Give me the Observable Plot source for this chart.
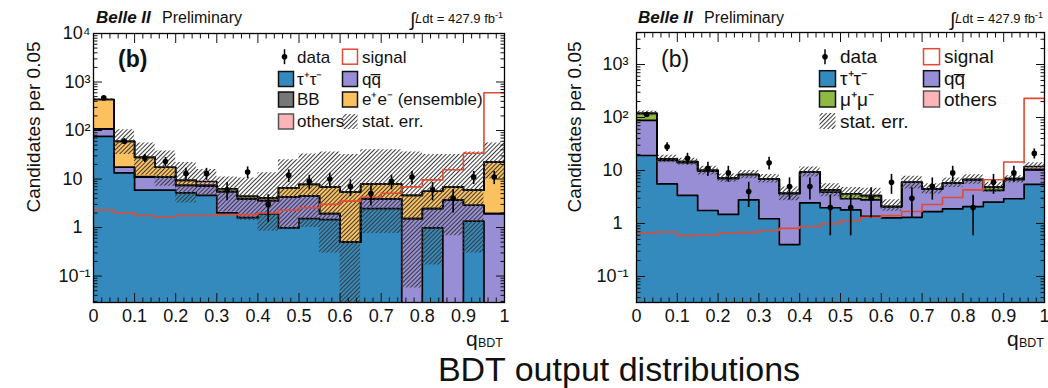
<!DOCTYPE html>
<html><head><meta charset="utf-8">
<script src="https://cdn.jsdelivr.net/npm/d3@7"></script>
<script src="https://cdn.jsdelivr.net/npm/@observablehq/plot@0.6"></script>
<style>
body{margin:0;background:#fff;}
#page{position:relative;width:1048px;height:388px;overflow:hidden;background:#fff;font-family:"Liberation Sans",Arial,sans-serif;}
.panel{position:absolute;top:0;}
#overlay{position:absolute;left:0;top:0;pointer-events:none;}
</style></head>
<body><div id="page"></div>
<script>
// ---------- shared categories / ticks ----------
const binLow = [0,0.05,0.1,0.15,0.2,0.25,0.3,0.35,0.4,0.45,0.5,0.55,0.6,0.65,0.7,0.75,0.8,0.85,0.9,0.95];
const binWidth = 0.05;
const xTickValues = [0,0.1,0.2,0.3,0.4,0.5,0.6,0.7,0.8,0.9,1];
const xTickLabels = ["0","0.1","0.2","0.3","0.4","0.5","0.6","0.7","0.8","0.9","1"];
const yTickValues = [0.1,1,10,100,1000,10000];
const yTickLabels = ["10\u207B\u00B9","1","10","10\u00B2","10\u00B3","10\u2074"];

// ---------- left panel (e+e- ensemble) ----------
const leftTauTau = [76,13.4,5.9,5.9,5.2,4.6,2.0,1.6,1.9,0.98,1.53,1.46,0.5,2.46,2.46,0,0.98,0,1.35,0];
const leftQQ     = [32,4.1,5.0,5.0,2.2,2.5,3.5,2.3,1.7,3.3,2.9,0.48,0,1.44,1.44,1.53,1.48,3.66,1.53,1.94];
const leftBB     = [0,0,0.3,0,0,0,0,0,0,0,0,0,0,0,0,0,0,0,0,0];
const leftEE     = [328,42.5,16.8,6.6,2.0,0.4,0.8,0.5,0.5,2.3,3.3,4.86,4.9,4.0,4.0,3.07,3.14,3.14,3.02,20.3];
const leftOthers = [0,0,0,0,0,1.4,0,0,0,0,0,0,0,0,0,0,0,0,0,0];
const leftSignal = [2.3,2.0,1.77,1.63,1.77,1.77,1.85,1.85,2.0,2.27,2.55,3.0,3.5,4.2,5.1,6.9,9.6,15.5,34,600];
const leftData   = [470,60,27,23,13,13,6,14,3,12,9,10,7,5,9,11,6,4,11,11];
const leftErrLow  = [420,32,12,7.1,3.2,4.5,2.1,1.4,0.84,0.9,1.0,0.3,0.01,0.75,0.75,0.057,0.17,0.68,0.3,10];
const leftErrHigh = [452,104,55,38,22,15.7,11,10.5,13.4,25,33,36,32,40,40,36,32,32,36,55];

// ---------- right panel ----------
const rightTauTau = [19.2,5.6,3.4,1.76,1.48,2.8,1.23,0.40,2.46,1.98,1.81,1.36,1.28,1.31,1.68,1.89,2.09,2.52,2.93,5.45];
const rightQQ     = [68.8,9.9,10.7,7.94,5.52,5.6,5.67,3.3,6.84,1.92,1.12,1.44,0.81,4.69,2.82,3.91,4.66,1.68,3.77,4.85];
const rightMuMu   = [32,1.1,0.7,0.4,0.2,0,0,0,0,0.4,0.71,0.57,0,0,0,0,0,0.64,0.3,0.2];
const rightOthers = [0,0,0,0,0,0,0,0,0,0,0,0,0,0,0,0,0,0,0,1.4];
const rightSignal = [0.66,0.69,0.59,0.6,0.66,0.68,0.74,0.81,0.88,0.99,1.14,1.31,1.41,1.68,2.28,3.1,4.3,6.7,14.5,230];
const rightData   = [114,28,17,11,9,4,14,5,5,2,2,3,6,3,5,9,2,6,9,21];
const rightErrLow  = [108,14,12.5,8.2,6,7,5.8,2.7,7.5,3.2,2.8,2.9,1.7,4.5,3.6,4.8,5.5,3.9,5.8,10.3];
const rightErrHigh = [132,19.5,17,12,8.6,10,8.4,4.9,11.6,5.6,4.8,4.6,2.8,7.8,5.6,7.2,8.3,6.0,8.0,14];

// ---------- colours ----------
const colTau = "#348ABD", colQQ = "#988ED5", colBB = "#777777", colEE = "#FBC15E",
      colOthers = "#FFB5B8", colMuMu = "#8EBA42", colSignal = "#E24A33";

const FONT = '"Liberation Sans", Arial, sans-serif';

function addHatch(svg, id) {
  const ns = "http://www.w3.org/2000/svg";
  const defs = document.createElementNS(ns, "defs");
  const p = document.createElementNS(ns, "pattern");
  p.setAttribute("id", id);
  p.setAttribute("patternUnits", "userSpaceOnUse");
  p.setAttribute("width", "3"); p.setAttribute("height", "3");
  p.setAttribute("patternTransform", "rotate(45)");
  const l = document.createElementNS(ns, "line");
  l.setAttribute("x1", "1.5"); l.setAttribute("y1", "-1");
  l.setAttribute("x2", "1.5"); l.setAttribute("y2", "4");
  l.setAttribute("stroke", "#3a3a3a"); l.setAttribute("stroke-width", "1");
  p.appendChild(l); defs.appendChild(p);
  svg.insertBefore(defs, svg.firstChild);
}

function labelOf(values, labels) {
  return d => { const i = values.findIndex(v => Math.abs(v - d) < 1e-9 * Math.max(1, Math.abs(d))); return i >= 0 ? labels[i] : ""; };
}

// points for a step shape: one per bin plus the closing edge at x = 1
function stepPoints(lowArr, highArr, floorVal) {
  const pts = binLow.map((x, i) => ({x, y1: Math.max(lowArr[i], floorVal), y2: Math.max(highArr[i], floorVal)}));
  const n = binLow.length - 1;
  pts.push({x: 1, y1: pts[n].y1, y2: pts[n].y2});
  return pts;
}

function buildPanel(o) {
  const floorVal = o.yDomain[0] / 1000;
  let cum = binLow.map(() => 0);
  const marks = [];
  const levelLines = [];
  for (const layer of o.layers) {
    const next = cum.map((c, i) => c + layer.values[i]);
    marks.push(Plot.areaY(stepPoints(cum, next, floorVal), {x: "x", y1: "y1", y2: "y2", curve: "step-after", fill: layer.color, clip: true}));
    levelLines.push(stepPoints(next, next, floorVal));
    cum = next;
  }
  for (const pts of levelLines) {
    marks.push(Plot.line(pts, {x: "x", y: "y2", curve: "step-after", stroke: "black", strokeWidth: 1.7, clip: true}));
  }
  marks.push(Plot.areaY(stepPoints(o.errLow, o.errHigh, floorVal), {x: "x", y1: "y1", y2: "y2", curve: "step-after", fill: `url(#${o.hatchId})`, clip: true}));
  marks.push(Plot.line(stepPoints(o.signal, o.signal, floorVal), {x: "x", y: "y2", curve: "step-after", stroke: colSignal, strokeWidth: 1.6, clip: true}));
  const pts = binLow.map((x0, i) => ({x: x0 + binWidth / 2, n: o.data[i], lo: o.data[i] - Math.sqrt(o.data[i]), hi: o.data[i] + Math.sqrt(o.data[i])}));
  marks.push(Plot.ruleX(pts, {x: "x", y1: d => Math.max(d.lo, floorVal), y2: "hi", stroke: "black", strokeWidth: 1.6, clip: true}));
  marks.push(Plot.dot(pts, {x: "x", y: "n", r: 2.8, fill: "black", stroke: "none"}));

  const yTicks = yTickValues.filter(v => v >= o.yDomain[0] && v <= o.yDomain[1]);
  const yMinor = [];
  [0.01, 0.1, 1, 10, 100, 1000].forEach(dec => [2,3,4,5,6,7,8,9].forEach(k => { const v = k * dec; if (v > o.yDomain[0] && v < o.yDomain[1]) yMinor.push(v); }));
  const xMinor = d3.range(0, 51).map(k => k / 50).filter(v => Math.abs(v * 10 - Math.round(v * 10)) > 1e-6);
  const powTicks = yTicks.filter(v => v !== 1 && v !== 10);
  const plainTicks = yTicks.filter(v => v === 1 || v === 10);
  const none = () => "";
  const fy = labelOf(yTickValues, yTickLabels);
  marks.push(
    Plot.axisX({anchor: "bottom", ticks: xTickValues, tickSize: 0, tickPadding: 7, tickFormat: labelOf(xTickValues, xTickLabels), label: null}),
    Plot.axisX({anchor: "bottom", ticks: xTickValues, tickSize: -9, tickFormat: none, label: null}),
    Plot.axisX({anchor: "bottom", ticks: xMinor, tickSize: -4.5, tickFormat: none, label: null}),
    Plot.axisX({anchor: "top", ticks: xTickValues, tickSize: -9, tickFormat: none, label: null}),
    Plot.axisX({anchor: "top", ticks: xMinor, tickSize: -4.5, tickFormat: none, label: null}),
    Plot.axisY({anchor: "left", ticks: powTicks, tickSize: 0, tickPadding: o.powPad, tickFormat: fy, label: null}),
    Plot.axisY({anchor: "left", ticks: plainTicks, tickSize: 0, tickPadding: o.plainPad, tickFormat: fy, label: null}),
    Plot.axisY({anchor: "left", ticks: yTicks, tickSize: -9, tickFormat: none, label: null}),
    Plot.axisY({anchor: "left", ticks: yMinor, tickSize: -4.5, tickFormat: none, label: null}),
    Plot.axisY({anchor: "right", ticks: yTicks, tickSize: -9, tickFormat: none, label: null}),
    Plot.axisY({anchor: "right", ticks: yMinor, tickSize: -4.5, tickFormat: none, label: null}),
    Plot.frame({stroke: "black", strokeWidth: 1.3})
  );
  const svg = Plot.plot({
    width: o.width, height: o.height,
    marginLeft: o.marginLeft, marginRight: o.marginRight, marginTop: o.marginTop, marginBottom: o.marginBottom,
    x: {domain: [0, 1]},
    y: {type: "log", domain: o.yDomain},
    style: {fontFamily: FONT, fontSize: "18px", color: "#111", background: "transparent", overflow: "visible"},
    marks
  });
  addHatch(svg, o.hatchId);
  svg.classList.add("panel");
  svg.style.left = o.left + "px";
  return svg;
}

const page = document.getElementById("page");
page.appendChild(buildPanel({
  left: 0, width: 520, height: 350, marginLeft: 93, marginRight: 16, marginTop: 33, marginBottom: 48,
  yDomain: [0.0285, 10000], hatchId: "hatchA", powPad: 3, plainPad: 11,
  layers: [{values: leftTauTau, color: colTau}, {values: leftQQ, color: colQQ}, {values: leftBB, color: colBB},
           {values: leftEE, color: colEE}, {values: leftOthers, color: colOthers}],
  signal: leftSignal, data: leftData, errLow: leftErrLow, errHigh: leftErrHigh
}));
page.appendChild(buildPanel({
  left: 540, width: 508, height: 350, marginLeft: 96, marginRight: 4, marginTop: 32, marginBottom: 48,
  yDomain: [0.0323, 4018], hatchId: "hatchB", powPad: 8, plainPad: 14,
  layers: [{values: rightTauTau, color: colTau}, {values: rightQQ, color: colQQ}, {values: rightMuMu, color: colMuMu},
           {values: rightOthers, color: colOthers}],
  signal: rightSignal, data: rightData, errLow: rightErrLow, errHigh: rightErrHigh
}));

// ---------- decorations: headers, legends, axis titles, caption ----------
function box(x, y, s, fill, stroke) {
  return `<rect x="${x}" y="${y}" width="${s}" height="${s}" fill="${fill}" stroke="${stroke}" stroke-width="1.5"/>`;
}
function dataIcon(cx, cy) {
  return `<line x1="${cx}" y1="${cy - 7.5}" x2="${cx}" y2="${cy + 7.5}" stroke="#000" stroke-width="1.5"/><circle cx="${cx}" cy="${cy}" r="2.8" fill="#000"/>`;
}
function header(x0, x1) {
  return `<text x="${x0}" y="23" font-size="17" font-weight="bold" font-style="italic">Belle II</text>
  <text x="${x0 + 66}" y="23" font-size="16">Preliminary</text>
  <text x="${x1}" y="23" font-size="13" text-anchor="end"><tspan font-size="19" dy="3">\u222B</tspan><tspan font-style="italic" dy="-3">L</tspan>dt = 427.9 fb<tspan font-size="9" dy="-5">-1</tspan></text>`;
}
const rowsL = [56.7, 79, 99.5, 121.5];
const rowsR = [56.7, 78.7, 99, 121];
let ov = `<svg id="overlay" width="1048" height="388" font-family='${FONT}' fill="#111">
<defs><pattern id="hatchC" patternUnits="userSpaceOnUse" width="3" height="3" patternTransform="rotate(45)"><line x1="1.5" y1="-1" x2="1.5" y2="4" stroke="#3a3a3a" stroke-width="1"/></pattern></defs>
${header(96, 503)}
${header(638, 1043)}
<text x="118" y="67" font-size="23" font-weight="bold">(b)</text>
<text x="661" y="67" font-size="23">(b)</text>
<text transform="translate(40,127) rotate(-90)" text-anchor="middle" font-size="19">Candidates per 0.05</text>
<text transform="translate(581,127) rotate(-90)" text-anchor="middle" font-size="19">Candidates per 0.05</text>
<text x="466" y="345.5" font-size="21">q</text><text x="478" y="347" font-size="12.5">BDT</text>
<text x="1007" y="345.5" font-size="21">q</text><text x="1019" y="347" font-size="12.5">BDT</text>
<g font-size="17">
 ${dataIcon(284.5, rowsL[0])}<text x="297" y="${rowsL[0] + 5.8}">data</text>
 ${box(342.5, rowsL[0] - 7.5, 15, "#fff", colSignal)}<text x="362" y="${rowsL[0] + 5.8}">signal</text>
 ${box(278.5, rowsL[1] - 7.5, 15, colTau, "#111")}<text x="297" y="${rowsL[1] + 5.8}">\u03C4\u207A\u03C4\u207B</text>
 ${box(342.5, rowsL[1] - 7.5, 15, colQQ, "#111")}<text x="362" y="${rowsL[1] + 5.8}">qq\u0305</text>
 ${box(278.5, rowsL[2] - 7.5, 15, colBB, "#111")}<text x="297" y="${rowsL[2] + 5.8}">BB</text>
 ${box(342.5, rowsL[2] - 7.5, 15, colEE, "#111")}<text x="362" y="${rowsL[2] + 5.8}">e\u207Ae\u207B (ensemble)</text>
 ${box(278.5, rowsL[3] - 7.5, 15, colOthers, "#555")}<text x="297" y="${rowsL[3] + 5.8}">others</text>
 <rect x="342.5" y="${rowsL[3] - 7.5}" width="15" height="15" fill="url(#hatchC)"/><text x="362" y="${rowsL[3] + 5.8}">stat. err.</text>
</g>
<g font-size="19">
 ${dataIcon(825, rowsR[0])}<text x="840" y="${rowsR[0] + 6.5}">data</text>
 ${box(923.5, rowsR[0] - 8, 16, "#fff", colSignal)}<text x="944" y="${rowsR[0] + 6.5}">signal</text>
 ${box(819.5, rowsR[1] - 8, 16, colTau, "#111")}<text x="840" y="${rowsR[1] + 6.5}">\u03C4\u207A\u03C4\u207B</text>
 ${box(923.5, rowsR[1] - 8, 16, colQQ, "#111")}<text x="944" y="${rowsR[1] + 6.5}">qq\u0305</text>
 ${box(819.5, rowsR[2] - 8, 16, colMuMu, "#111")}<text x="840" y="${rowsR[2] + 6.5}">\u03BC\u207A\u03BC\u207B</text>
 ${box(923.5, rowsR[2] - 8, 16, colOthers, "#555")}<text x="944" y="${rowsR[2] + 6.5}">others</text>
 <rect x="819.5" y="${rowsR[3] - 8}" width="16" height="16" fill="url(#hatchC)"/><text x="840" y="${rowsR[3] + 6.5}">stat. err.</text>
</g>
<text x="619" y="380.7" text-anchor="middle" font-size="34">BDT output distributions</text>
</svg>`;
const holder = document.createElement("div");
holder.innerHTML = ov;
page.appendChild(holder.firstElementChild);
</script>
</body></html>
